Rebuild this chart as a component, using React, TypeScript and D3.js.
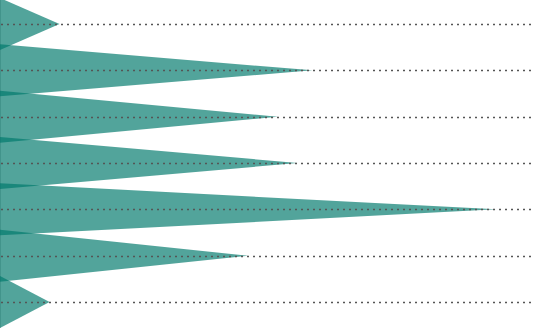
import React from "react";
import * as d3 from "d3";

const categories = ["A", "B", "C", "D", "E", "F", "G"];
const values = [12, 63, 56, 60, 100, 50, 10];

const W = 535;
const H = 328;

export default function App() {
  const x = d3.scaleLinear().domain([0, 100]).range([0, 496]);
  const y = d3.scalePoint<string>().domain(categories).range([24, 302]);
  const half = 26;
  const line = d3.line<[number, number]>();
  return (
    <svg
      width={W}
      height={H}
      style={{ position: "absolute", left: 0, top: 0, display: "block" }}
    >
      <line x1={0.5} x2={0.5} y1={0} y2={H} stroke="#cccccc" strokeWidth={1} />
      {categories.map((c, i) => {
        const cy = y(c)!;
        const pts: [number, number][] = [
          [x(0), cy - half],
          [x(values[i]), cy],
          [x(0), cy + half],
        ];
        return (
          <path
            key={c}
            d={line(pts)! + "Z"}
            fill="#00796b"
            fillOpacity={0.68}
          />
        );
      })}
      {categories.map((c) => {
        const cy = Math.round(y(c)!) + 0.5;
        return (
          <line
            key={"g" + c}
            x1={1}
            x2={W}
            y1={cy}
            y2={cy}
            stroke="#555555"
            strokeWidth={1.5}
            strokeDasharray="2 4"
          />
        );
      })}
    </svg>
  );
}
